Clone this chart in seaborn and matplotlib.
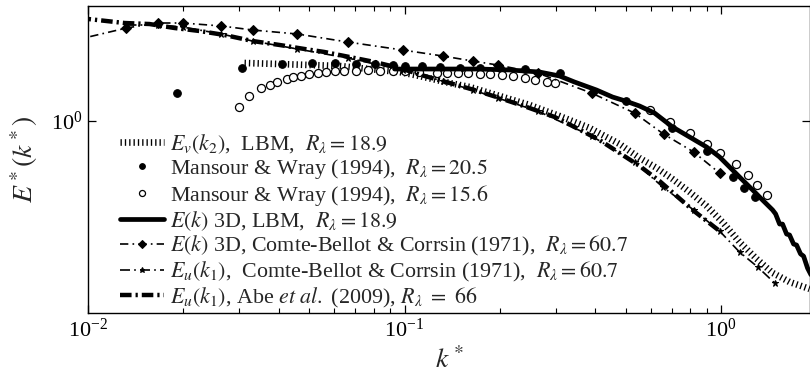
import matplotlib
matplotlib.use("Agg")
import matplotlib.pyplot as plt
import seaborn as sns
from matplotlib.ticker import LogLocator, NullLocator, NullFormatter, FixedLocator

# E_v(k_2), LBM, R_lambda = 18.9
k_ev_lbm = [0.03123, 0.0403, 0.0501, 0.0623, 0.0775, 0.0964, 0.1115, 0.1388, 0.1605,
            0.1996, 0.2483, 0.3088, 0.3842, 0.4778, 0.5527, 0.6255, 0.7028, 0.7952,
            0.900, 1.011, 1.144, 1.295, 1.454, 1.646, 1.904]
E_ev_lbm = [1.706, 1.690, 1.675, 1.660, 1.614, 1.570, 1.514, 1.419, 1.368,
            1.259, 1.159, 1.047, 0.938, 0.809, 0.711, 0.649, 0.586, 0.520,
            0.457, 0.394, 0.328, 0.281, 0.247, 0.227, 0.213]

# Mansour & Wray (1994), R_lambda = 20.5
k_mw205 = [0.01904, 0.03055, 0.04087, 0.05084, 0.0601, 0.0705, 0.0804, 0.0917, 0.1000,
           0.1132, 0.1290, 0.1492, 0.1726, 0.1996, 0.2394, 0.3088, 0.4992, 0.6976,
           0.900, 1.087, 1.186, 1.276]
E_mw205 = [1.294, 1.629, 1.690, 1.706, 1.706, 1.690, 1.690, 1.675, 1.660,
           1.660, 1.644, 1.629, 1.629, 1.629, 1.614, 1.556, 1.202, 0.938,
           0.759, 0.597, 0.540, 0.497]

# Mansour & Wray (1994), R_lambda = 15.6
k_mw156 = [0.03010, 0.03215, 0.03508, 0.03746, 0.03969, 0.04238, 0.04459, 0.04692,
           0.04975, 0.05310, 0.05629, 0.0601, 0.06462, 0.0705, 0.0764, 0.0834, 0.0917,
           0.1000, 0.1115, 0.1271, 0.1367, 0.1471, 0.1582, 0.1726, 0.1856, 0.2025,
           0.2194, 0.2394, 0.2575, 0.2810, 0.2978, 0.5944, 0.6876, 0.7954, 0.900,
           0.9892, 1.111, 1.2125, 1.295, 1.3924]
E_mw156 = [1.138, 1.259, 1.355, 1.393, 1.432, 1.472, 1.500, 1.514,
           1.542, 1.556, 1.570, 1.585, 1.585, 1.585, 1.600, 1.585, 1.585,
           1.585, 1.570, 1.556, 1.556, 1.556, 1.556, 1.542, 1.542, 1.528,
           1.514, 1.486, 1.459, 1.432, 1.419, 1.107, 0.991, 0.895, 0.809,
           0.745, 0.673, 0.608, 0.555, 0.506]

# E(k) 3D, LBM, R_lambda = 18.9
k_e3d_lbm = [0.0930, 0.1115, 0.1388, 0.1726, 0.2147, 0.2670, 0.3088, 0.3444, 0.4043,
             0.4542, 0.4992, 0.5528, 0.6165, 0.7028, 0.7954, 0.900, 0.9892, 1.087,
             1.169, 1.258, 1.352, 1.454, 1.487, 1.531, 1.564, 1.611, 1.646, 1.695,
             1.732, 1.783, 1.823, 1.876, 1.932]
E_e3d_lbm = [1.614, 1.614, 1.614, 1.614, 1.600, 1.570, 1.514, 1.432, 1.330,
             1.247, 1.202, 1.148, 1.076, 0.946, 0.863, 0.787, 0.718, 0.637,
             0.581, 0.530, 0.483, 0.441, 0.425, 0.387, 0.387, 0.353, 0.350, 0.322,
             0.319, 0.294, 0.288, 0.258, 0.240]

# E(k) 3D, Comte-Bellot & Corrsin (1971), R_lambda = 60.7
k_e3d_cbc = [0.00784, 0.01323, 0.01658, 0.01989, 0.02641, 0.0331, 0.0459, 0.06605,
             0.09856, 0.1319, 0.1640, 0.1967, 0.2632, 0.3898, 0.5330, 0.6580,
             0.8189, 0.9892]
E_e3d_cbc = [2.014, 2.355, 2.466, 2.466, 2.399, 2.312, 2.228, 2.070,
             1.923, 1.820, 1.738, 1.675, 1.556, 1.294, 1.076, 0.887,
             0.752, 0.619]

# E_u(k_1), Comte-Bellot & Corrsin (1971), R_lambda = 60.7
k_eu_cbc = [0.01323, 0.01658, 0.01989, 0.02641, 0.0331, 0.0459, 0.06605, 0.09856,
            0.1319, 0.1640, 0.1967, 0.2632, 0.3898, 0.5330, 0.6534, 0.8189,
            0.9892, 1.144, 1.304, 1.476]
E_eu_cbc = [2.421, 2.421, 2.377, 2.228, 2.089, 1.941, 1.786, 1.600,
            1.445, 1.330, 1.236, 1.096, 0.871, 0.686, 0.545, 0.441,
            0.363, 0.299, 0.261, 0.225]

# E_u(k_1), Abe et al. (2009), R_lambda = 66
k_eu_abe = [0.0094, 0.0100, 0.01304, 0.01564, 0.01876, 0.0225, 0.0270, 0.0331, 0.0403,
            0.04831, 0.05588, 0.06702, 0.0804, 0.0964, 0.1157, 0.1388, 0.1664,
            0.1996, 0.2429, 0.2978, 0.3444, 0.4131, 0.5528, 0.6394, 0.8128, 0.9892]
E_eu_abe = [2.582, 2.559, 2.466, 2.443, 2.355, 2.291, 2.208, 2.089, 2.014,
            1.941, 1.888, 1.803, 1.722, 1.629, 1.514, 1.419, 1.330,
            1.236, 1.138, 1.038, 0.946, 0.839, 0.661, 0.575, 0.441, 0.363]

sns.set_theme(style="ticks")
plt.rcParams["font.family"] = ["Liberation Serif", "DejaVu Serif"]
plt.rcParams["mathtext.fontset"] = "stix"
plt.rcParams["axes.linewidth"] = 1.0

fig = plt.figure(figsize=(8.1, 3.8), dpi=100)
ax = fig.add_axes([88 / 810, 1 - 313 / 380, 722 / 810, 307 / 380])
ax.set_xscale("log")
ax.set_yscale("log")

common = dict(ax=ax, estimator=None, sort=False, legend=False, color="black")

sns.lineplot(x=k_ev_lbm, y=E_ev_lbm, lw=4.8, linestyle=(0, (0.2, 0.45)),
             label=r"$E_v(k_2)$,  LBM,  $R_\lambda = 18.9$", **common)
sns.lineplot(x=k_mw205, y=E_mw205, linestyle="none", marker="o", markersize=5.5,
             markerfacecolor="black", markeredgecolor="black",
             label=r"Mansour & Wray (1994),  $R_\lambda = 20.5$", **common)
sns.lineplot(x=k_mw156, y=E_mw156, linestyle="none", marker="o", markersize=5.8,
             markerfacecolor="white", markeredgecolor="black", markeredgewidth=0.9,
             label=r"Mansour & Wray (1994),  $R_\lambda = 15.6$", **common)
sns.lineplot(x=k_e3d_lbm, y=E_e3d_lbm, lw=3.4, linestyle="-",
             label=r"$E(k)$ 3D, LBM,  $R_\lambda = 18.9$", **common)
sns.lineplot(x=k_e3d_cbc, y=E_e3d_cbc, lw=1.2, linestyle=(0, (5, 2.5, 1, 2.5)),
             marker="D", markersize=5.4, markerfacecolor="black", markeredgecolor="black",
             label=r"$E(k)$ 3D, Comte-Bellot & Corrsin (1971),  $R_\lambda = 60.7$", **common)
sns.lineplot(x=k_eu_cbc, y=E_eu_cbc, lw=1.2, linestyle=(0, (6, 2.5, 1, 2.5)),
             marker="*", markersize=5, markerfacecolor="black", markeredgecolor="black",
             label=r"$E_u(k_1)$,  Comte-Bellot & Corrsin (1971),  $R_\lambda = 60.7$", **common)
sns.lineplot(x=k_eu_abe, y=E_eu_abe, lw=3.2, linestyle=(0, (2.6, 0.9, 0.5, 0.9)),
             label=r"$E_u(k_1)$, Abe $et\ al.$ (2009), $R_\lambda\ =\ 66$", **common)

ax.set_xlim(0.01, 1.91)
ax.set_ylim(0.1706, 2.884)

ax.xaxis.set_major_locator(LogLocator(base=10))
ax.xaxis.set_minor_locator(LogLocator(base=10, subs=range(2, 10)))
ax.xaxis.set_minor_formatter(NullFormatter())
ax.yaxis.set_major_locator(FixedLocator([1.0]))
ax.yaxis.set_minor_locator(NullLocator())

ax.tick_params(which="both", direction="in", top=True, right=True, colors="black",
               labelsize=16)
ax.tick_params(which="major", length=6, width=0.9, pad=4)
ax.tick_params(which="minor", length=3.5, width=0.8)
for s in ax.spines.values():
    s.set_visible(True)
    s.set_color("black")
    s.set_linewidth(1.0)

ax.set_xlabel(r"$k^*$", fontsize=20, labelpad=4)
ax.set_ylabel(r"$E^*(k^*)$", fontsize=20, labelpad=8)

handles, labels = ax.get_legend_handles_labels()
leg = ax.legend(handles, labels, loc="upper left", bbox_to_anchor=(0.044, 0.59),
                frameon=False, fontsize=15.8, borderpad=0, borderaxespad=0,
                handlelength=2.0, handletextpad=0.3, labelspacing=0.07,
                markerscale=0.75)

fig.savefig("out.png", dpi=100)
